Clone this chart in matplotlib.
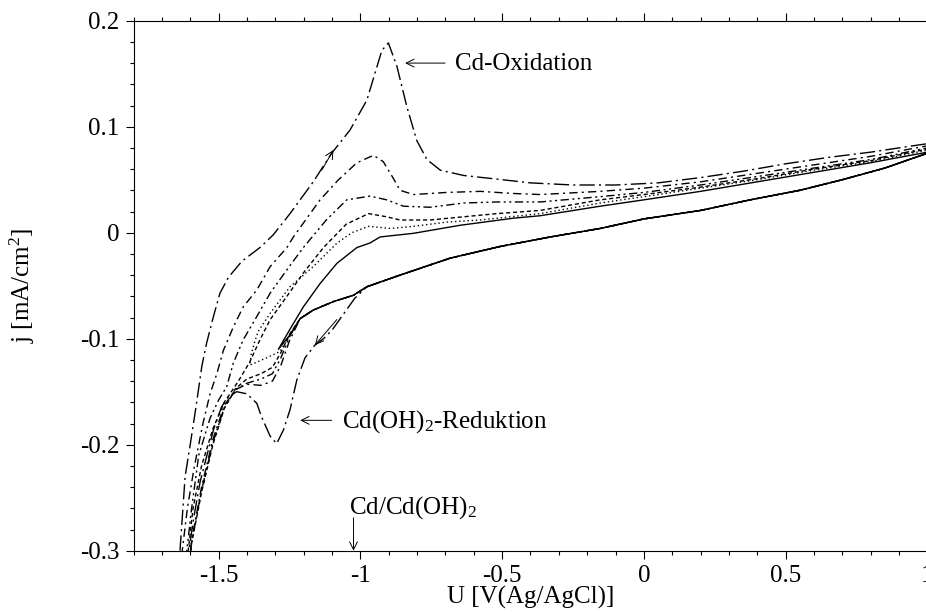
import numpy as np
import matplotlib.pyplot as plt
from matplotlib.ticker import MultipleLocator, FuncFormatter

plt.rcParams['font.family'] = ['Liberation Serif', 'DejaVu Serif']
plt.rcParams['mathtext.fontset'] = 'custom'
plt.rcParams['mathtext.rm'] = 'Liberation Serif'
plt.rcParams['mathtext.it'] = 'Liberation Serif:italic'
plt.rcParams['axes.unicode_minus'] = False

# common cathodic sweep, all cycles lie on top of each other here (U in V, j in mA/cm2)
lb_u = [1.0, 0.85, 0.7, 0.55, 0.375, 0.2, 0.0, -0.154, -0.33, -0.507, -0.683, -0.86, -0.977]
lb_j = [0.075, 0.061, 0.050, 0.040, 0.031, 0.021, 0.013, 0.004, -0.004, -0.013, -0.024, -0.040, -0.051]
lb2_u = [-1.024, -1.095, -1.166, -1.212]
lb2_j = [-0.059, -0.065, -0.073, -0.081]

# cycle A (big oxidation peak)
a_cath_u = [-1.02, -1.06, -1.10, -1.13, -1.16, -1.195, -1.224, -1.248, -1.271, -1.295, -1.318, -1.348,
            -1.365, -1.40, -1.436, -1.466, -1.489, -1.518, -1.542, -1.565, -1.585, -1.605, -1.617]
a_cath_j = [-0.062, -0.077, -0.092, -0.100, -0.106, -0.118, -0.139, -0.167, -0.186, -0.199, -0.192, -0.174,
            -0.161, -0.152, -0.150, -0.155, -0.164, -0.186, -0.211, -0.235, -0.265, -0.300, -0.320]
a_anod_u = [-1.648, -1.636, -1.618, -1.600, -1.580, -1.559, -1.542, -1.518, -1.495, -1.465, -1.418, -1.354,
            -1.307, -1.248, -1.166, -1.101, -1.036, -0.977, -0.924, -0.901, -0.871, -0.836, -0.801, -0.765,
            -0.718, -0.636, -0.5, -0.4, -0.25, -0.1, 0.05, 0.2, 0.35, 0.5, 0.65, 0.8, 1.0]
a_anod_j = [-0.32, -0.30, -0.23, -0.20, -0.165, -0.126, -0.104, -0.079, -0.057, -0.042, -0.027, -0.014,
            -0.002, 0.018, 0.048, 0.075, 0.097, 0.125, 0.172, 0.179, 0.157, 0.119, 0.087, 0.069,
            0.059, 0.054, 0.050, 0.047, 0.045, 0.045, 0.047, 0.052, 0.058, 0.065, 0.071, 0.076, 0.084]

# cycle B
b_cath_u = [-1.25, -1.28, -1.31, -1.35, -1.40, -1.44, -1.48, -1.52, -1.56, -1.595, -1.607]
b_cath_j = [-0.102, -0.125, -0.140, -0.144, -0.143, -0.148, -0.163, -0.195, -0.240, -0.290, -0.320]
b_anod_u = [-1.640, -1.628, -1.61, -1.585, -1.555, -1.530, -1.506, -1.483, -1.448, -1.413, -1.365, -1.318,
            -1.259, -1.236, -1.142, -1.077, -1.012, -0.954, -0.919, -0.883, -0.860, -0.813, -0.695, -0.577,
            -0.460, -0.366, -0.154, 0.0, 0.2, 0.4, 0.6, 0.8, 1.0]
b_anod_j = [-0.32, -0.30, -0.26, -0.22, -0.18, -0.152, -0.133, -0.111, -0.089, -0.070, -0.054, -0.032,
            -0.014, -0.004, 0.031, 0.050, 0.066, 0.073, 0.067, 0.051, 0.040, 0.036, 0.038, 0.039,
            0.037, 0.036, 0.039, 0.042, 0.048, 0.056, 0.064, 0.072, 0.082]

# cycle C
c_cath_u = [-1.25, -1.28, -1.31, -1.35, -1.40, -1.44, -1.48, -1.52, -1.56, -1.595, -1.607]
c_cath_j = [-0.098, -0.118, -0.133, -0.138, -0.142, -0.148, -0.165, -0.198, -0.243, -0.292, -0.320]
c_anod_u = [-1.625, -1.612, -1.595, -1.57, -1.53, -1.50, -1.471, -1.448, -1.413, -1.365, -1.318, -1.259,
            -1.201, -1.12, -1.048, -0.966, -0.907, -0.848, -0.754, -0.636, -0.518, -0.366, -0.154, 0.0,
            0.2, 0.4, 0.6, 0.8, 1.0]
c_anod_j = [-0.32, -0.30, -0.26, -0.21, -0.175, -0.158, -0.145, -0.123, -0.101, -0.079, -0.057, -0.035,
            -0.014, 0.012, 0.031, 0.0345, 0.031, 0.025, 0.024, 0.028, 0.029, 0.029, 0.034, 0.038,
            0.045, 0.053, 0.061, 0.069, 0.080]

# cycle D
d_cath_u = [-1.25, -1.28, -1.31, -1.35, -1.40, -1.44, -1.48, -1.52, -1.56, -1.595, -1.607]
d_cath_j = [-0.096, -0.113, -0.127, -0.133, -0.138, -0.147, -0.166, -0.200, -0.245, -0.293, -0.320]
d_anod_u = [-1.62, -1.607, -1.59, -1.56, -1.52, -1.48, -1.43, -1.39, -1.354, -1.318, -1.259, -1.201,
            -1.130, -1.05, -0.971, -0.907, -0.860, -0.754, -0.636, -0.518, -0.366, -0.154, 0.0, 0.2,
            0.4, 0.6, 0.8, 1.0]
d_anod_j = [-0.32, -0.30, -0.26, -0.22, -0.185, -0.16, -0.14, -0.122, -0.101, -0.082, -0.060, -0.038,
            -0.014, 0.008, 0.018, 0.015, 0.012, 0.012, 0.015, 0.018, 0.021, 0.031, 0.036, 0.043,
            0.051, 0.060, 0.068, 0.079]

# cycle E (reversed at -1.39 V)
e_cath_u = [-1.25, -1.283, -1.33, -1.39]
e_cath_j = [-0.098, -0.112, -0.118, -0.125]
e_anod_u = [-1.385, -1.375, -1.36, -1.318, -1.248, -1.166, -1.083, -1.03, -0.971, -0.895, -0.813, -0.695,
            -0.577, -0.366, -0.154, 0.0, 0.2, 0.4, 0.6, 0.8, 1.0]
e_anod_j = [-0.115, -0.105, -0.093, -0.076, -0.051, -0.032, -0.010, 0.000, 0.006, 0.004, 0.006, 0.010,
            0.012, 0.018, 0.028, 0.034, 0.042, 0.050, 0.059, 0.067, 0.078]

# cycle F (solid, reversed at -1.29 V)
f_cath_u = [-1.25, -1.289]
f_cath_j = [-0.097, -0.110]
f_anod_u = [-1.248, -1.201, -1.142, -1.083, -1.012, -0.966, -0.930, -0.813, -0.648, -0.460, -0.366, -0.154,
            0.0, 0.2, 0.4, 0.6, 0.8, 1.0]
f_anod_j = [-0.091, -0.070, -0.048, -0.029, -0.014, -0.0097, -0.004, -0.0006, 0.007, 0.0137, 0.016, 0.025,
            0.031, 0.039, 0.048, 0.057, 0.066, 0.076]

xticks = [-1.5, -1, -0.5, 0, 0.5, 1]
yticks = [-0.3, -0.2, -0.1, 0, 0.1, 0.2]

FS = 18

fig = plt.figure(figsize=(9.26, 6.14), dpi=100)
ax = fig.add_axes([133.5 / 926, 1 - 550.7 / 614, (927.4 - 133.5) / 926, (550.7 - 20.7) / 614])

cycles = [
    (lb_u + a_cath_u + a_anod_u, lb_j + a_cath_j + a_anod_j, (0, (11, 3, 1.5, 3))),
    (lb_u + lb2_u + b_cath_u + b_anod_u, lb_j + lb2_j + b_cath_j + b_anod_j, (0, (6, 3, 1.5, 3))),
    (lb_u + lb2_u + c_cath_u + c_anod_u, lb_j + lb2_j + c_cath_j + c_anod_j, (0, (6, 2.5, 1.5, 2.5, 1.5, 2.5))),
    (lb_u + lb2_u + d_cath_u + d_anod_u, lb_j + lb2_j + d_cath_j + d_anod_j, (0, (3, 2))),
    (lb_u + lb2_u + e_cath_u + e_anod_u, lb_j + lb2_j + e_cath_j + e_anod_j, (0, (1, 2))),
    (lb_u + lb2_u + f_cath_u + f_anod_u, lb_j + lb2_j + f_cath_j + f_anod_j, '-'),
]
for u, j, ls in cycles:
    ax.plot(np.array(u), np.array(j), color='black', lw=1.0, linestyle=ls)

ax.set_xlim(-1.8, 1.0)
ax.set_ylim(-0.3, 0.2)
ax.set_xticks(xticks)
ax.set_yticks(yticks)
ax.xaxis.set_minor_locator(MultipleLocator(0.1))
ax.yaxis.set_minor_locator(MultipleLocator(0.02))
fmt = FuncFormatter(lambda v, p: f"{v:g}")
ax.xaxis.set_major_formatter(fmt)
ax.yaxis.set_major_formatter(fmt)
ax.tick_params(which='both', direction='out', top=True, right=True, labelsize=FS, width=0.8, pad=4)
ax.tick_params(which='major', length=6)
ax.tick_params(which='minor', length=3)
for s in ax.spines.values():
    s.set_linewidth(0.8)

ax.set_xlabel('U [V(Ag/AgCl)]', fontsize=FS)
ax.set_ylabel('j [mA/cm$^2$]', fontsize=FS)
ax.xaxis.set_label_coords(0.5, -0.066)
ax.yaxis.set_label_coords(-0.122, 0.5)

arr = dict(arrowstyle='->', lw=0.7, color='black', mutation_scale=14, shrinkA=0, shrinkB=0)
# sweep direction arrows
ax.annotate('', xy=(-1.095, 0.078), xytext=(-1.136, 0.059), arrowprops=arr)
ax.annotate('', xy=(-1.16, -0.106), xytext=(-1.083, -0.082), arrowprops=arr)

# labels
ax.annotate('', xy=(-0.842, 0.160), xytext=(-0.701, 0.160), arrowprops=arr)
ax.text(-0.666, 0.1535, 'Cd-Oxidation', fontsize=FS, ha='left', va='baseline')
ax.annotate('', xy=(-1.212, -0.177), xytext=(-1.101, -0.177), arrowprops=arr)
ax.text(-1.065, -0.184, 'Cd(OH)$_2$-Reduktion', fontsize=FS, ha='left', va='baseline')
ax.annotate('', xy=(-1.024, -0.3), xytext=(-1.024, -0.269), arrowprops=arr)
ax.text(-1.039, -0.2647, 'Cd/Cd(OH)$_2$', fontsize=FS, ha='left', va='baseline')

fig.savefig('out.png', dpi=100)
